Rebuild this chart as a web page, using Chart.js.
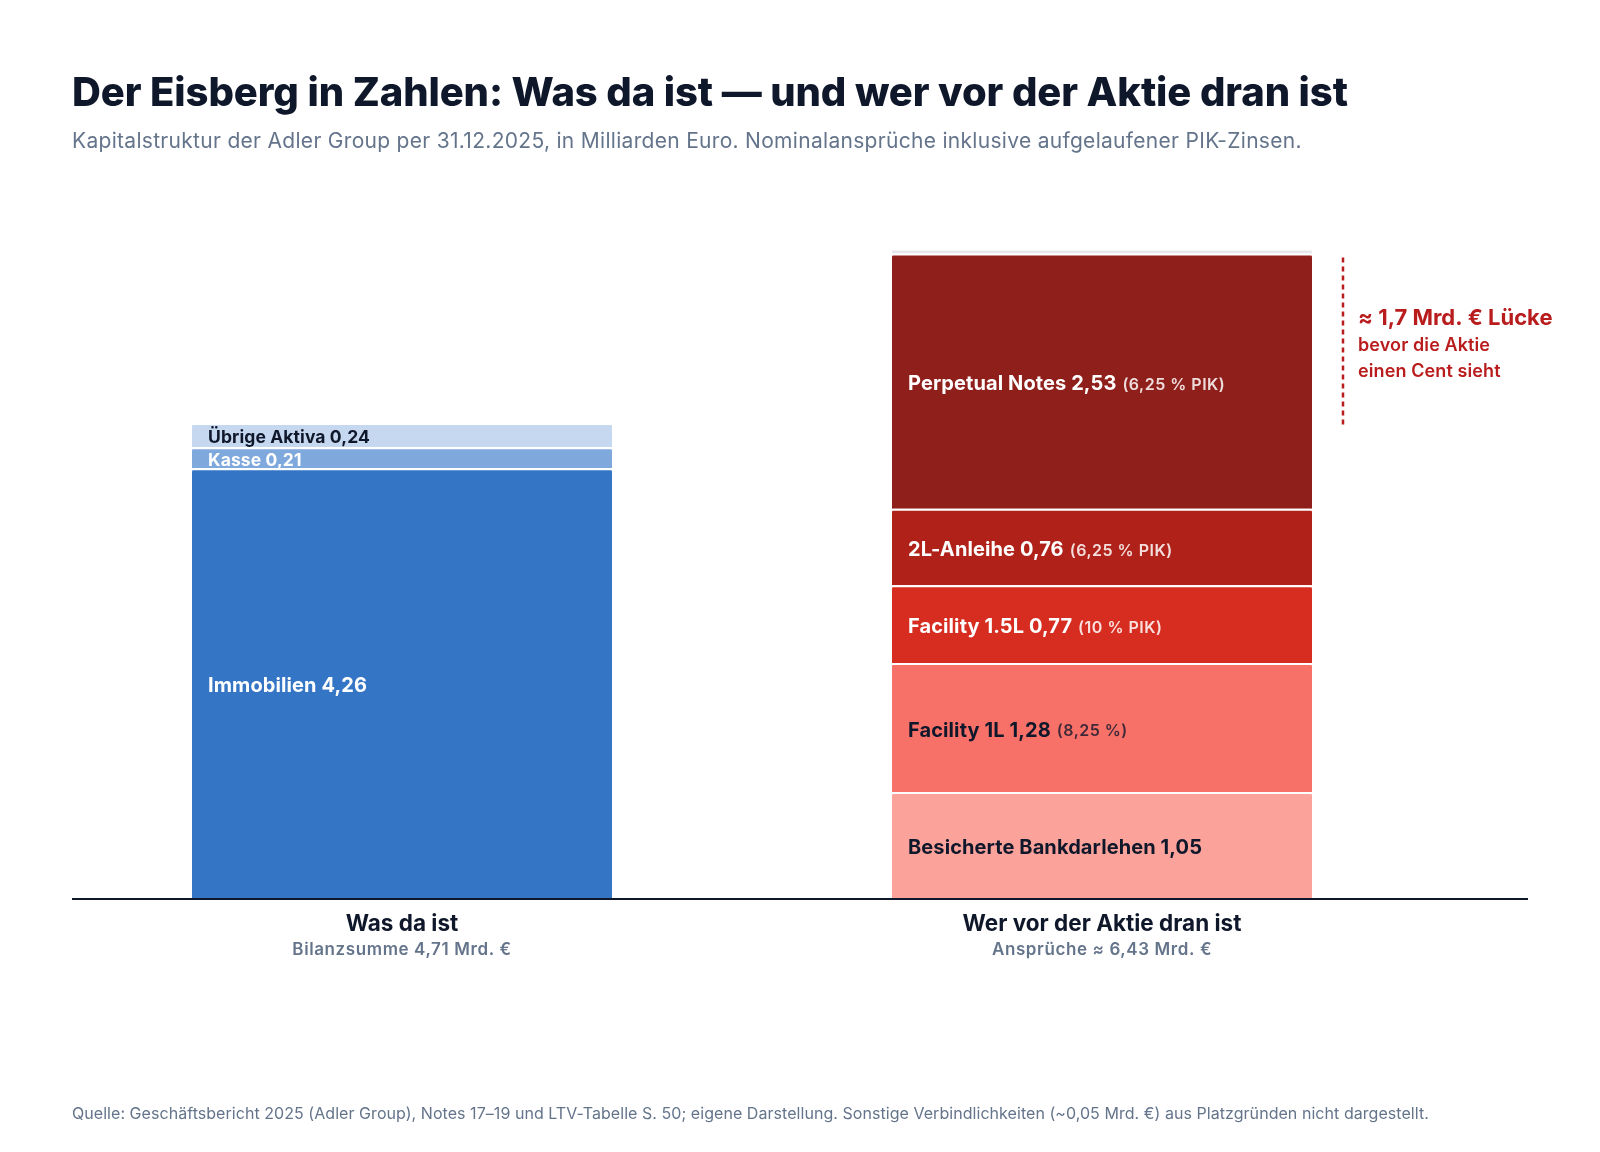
<!DOCTYPE html>
<html lang="de">
<head>
<meta charset="utf-8">
<title>Der Eisberg in Zahlen</title>
<script src="https://cdn.jsdelivr.net/npm/chart.js@4.4.1/dist/chart.umd.min.js"></script>
<style>
  html, body { margin: 0; padding: 0; background: #ffffff; }
  #wrap { position: relative; width: 1600px; height: 1152px; font-family: Inter, "Noto Sans", sans-serif; }
  #chart { position: absolute; left: 0; top: 0; }
  h1 { position: absolute; left: 72px; top: 68px; margin: 0; font-size: 40px; line-height: 48px; font-weight: 800; color: #0f172a; letter-spacing: -0.1px; white-space: nowrap; }
  .sub { position: absolute; left: 72px; top: 127px; margin: 0; font-size: 21px; line-height: 28px; color: #64748b; letter-spacing: 0.3px; white-space: nowrap; }
  .src { position: absolute; left: 72px; top: 1103px; margin: 0; font-size: 16px; line-height: 20px; color: #64748b; letter-spacing: 0.05px; white-space: nowrap; }
</style>
</head>
<body>
<div id="wrap">
  <canvas id="chart" width="1600" height="1152"></canvas>
  <h1>Der Eisberg in Zahlen: Was da ist — und wer vor der Aktie dran ist</h1>
  <p class="sub">Kapitalstruktur der Adler Group per 31.12.2025, in Milliarden Euro. Nominalansprüche inklusive aufgelaufener PIK-Zinsen.</p>
  <p class="src">Quelle: Geschäftsbericht 2025 (Adler Group), Notes 17–19 und LTV-Tabelle S. 50; eigene Darstellung. Sonstige Verbindlichkeiten (~0,05 Mrd. €) aus Platzgründen nicht dargestellt.</p>
</div>
<script>
// Data
var categories = ['Was da ist', 'Wer vor der Aktie dran ist'];
var categorySubs = ['Bilanzsumme 4,71 Mrd. €', 'Ansprüche ≈ 6,43 Mrd. €'];

var assetNames = ['Immobilien', 'Kasse', 'Übrige Aktiva'];
var assetValues = [4.26, 0.21, 0.24];

var claimNames = ['Besicherte Bankdarlehen', 'Facility 1L', 'Facility 1.5L', '2L-Anleihe', 'Perpetual Notes', 'Sonstige'];
var claimValues = [1.05, 1.28, 0.77, 0.76, 2.53, 0.05];
var claimNotes = ['', '(8,25 %)', '(10 % PIK)', '(6,25 % PIK)', '(6,25 % PIK)', ''];
var claimShowLabel = [true, true, true, true, true, false];

var gapTitle = '≈ 1,7 Mrd. € Lücke';
var gapLines = ['bevor die Aktie', 'einen Cent sieht'];

// Styles
var assetColors = ['#3575c5', '#7fa8dc', '#c6d8ef'];
var assetText = ['#ffffff', '#ffffff', '#0f172a'];
var claimColors = ['#fba39b', '#f87168', '#d72c20', '#b02219', '#8f1f1a', '#e5e7eb'];
var claimText = ['#0f172a', '#0f172a', '#ffffff', '#ffffff', '#ffffff', '#0f172a'];

var FONT = 'Inter, "Noto Sans", sans-serif';
var fmt = function (v) { return v.toFixed(2).replace('.', ','); };
var sum = function (arr) { return arr.reduce(function (a, b) { return a + b; }, 0); };

var makeDataset = function (name, value, idx, color, textColor, note, show) {
  var data = [null, null];
  data[idx] = value;
  return {
    label: name,
    data: data,
    backgroundColor: color,
    borderColor: '#ffffff',
    borderWidth: { top: 2, left: 0, right: 0, bottom: 0 },
    borderSkipped: 'start',
    borderRadius: { topLeft: 3, topRight: 3, bottomLeft: 0, bottomRight: 0 },
    barPercentage: 0.6,
    categoryPercentage: 1,
    segText: show ? name + ' ' + fmt(value) : '',
    segNote: note,
    segColor: textColor
  };
};

var datasets = [];
assetNames.forEach(function (n, i) {
  datasets.push(makeDataset(n, assetValues[i], 0, assetColors[i], assetText[i], '', true));
});
claimNames.forEach(function (n, i) {
  datasets.push(makeDataset(n, claimValues[i], 1, claimColors[i], claimText[i], claimNotes[i], claimShowLabel[i]));
});

var setSpacing = function (ctx, px) {
  if ('letterSpacing' in ctx) ctx.letterSpacing = px + 'px';
};

// Labels inside the segments
var segmentLabels = {
  id: 'segmentLabels',
  afterDatasetsDraw: function (chart) {
    var ctx = chart.ctx;
    ctx.save();
    ctx.textBaseline = 'middle';
    ctx.textAlign = 'left';
    chart.data.datasets.forEach(function (ds, i) {
      var meta = chart.getDatasetMeta(i);
      meta.data.forEach(function (bar, j) {
        if (ds.data[j] == null || !ds.segText) return;
        var h = bar.base - bar.y;
        var left = bar.x - bar.width / 2 + 16;
        var big = h > 40;
        var cy = bar.y + 1 + h / 2 + (big ? 2 : 2);
        ctx.globalAlpha = 1;
        ctx.fillStyle = ds.segColor;
        ctx.font = '700 ' + (big ? 20 : 17.5) + 'px ' + FONT;
        setSpacing(ctx, 0.1);
        ctx.fillText(ds.segText, left, cy);
        if (ds.segNote) {
          var w = ctx.measureText(ds.segText).width;
          ctx.font = '600 16px ' + FONT;
          setSpacing(ctx, 0.5);
          ctx.globalAlpha = ds.segColor === '#ffffff' ? 0.85 : 0.8;
          ctx.fillText(ds.segNote, left + w + 6, cy + 1);
        }
      });
    });
    ctx.restore();
  }
};

// Baseline, category labels, gap annotation
var decorations = {
  id: 'decorations',
  afterDraw: function (chart) {
    var ctx = chart.ctx;
    var x = chart.scales.x, y = chart.scales.y;
    var y0 = y.getPixelForValue(0);
    ctx.save();
    ctx.strokeStyle = '#0f172a';
    ctx.lineWidth = 2;
    ctx.beginPath();
    ctx.moveTo(72, y0 + 1);
    ctx.lineTo(1528, y0 + 1);
    ctx.stroke();

    ctx.textAlign = 'center';
    ctx.textBaseline = 'middle';
    categories.forEach(function (c, i) {
      var cx = x.getPixelForValue(i);
      ctx.fillStyle = '#0f172a';
      ctx.font = '700 22.5px ' + FONT;
      setSpacing(ctx, 0);
      ctx.fillText(c, cx, y0 + 26);
      ctx.fillStyle = '#64748b';
      ctx.font = '600 17px ' + FONT;
      setSpacing(ctx, 0.6);
      ctx.fillText(categorySubs[i], cx, y0 + 52);
    });

    // gap between claims and assets
    var claimsTop = sum(claimValues.slice(0, 5));
    var assetsTop = sum(assetValues);
    var yTop = y.getPixelForValue(claimsTop) + 4;
    var yBot = y.getPixelForValue(assetsTop) + 4;
    var lx = 1343;
    ctx.strokeStyle = '#b91c1c';
    ctx.lineWidth = 2.5;
    ctx.setLineDash([5, 4]);
    ctx.beginPath();
    ctx.moveTo(lx, yTop);
    ctx.lineTo(lx, yBot);
    ctx.stroke();
    ctx.setLineDash([]);

    var mid = (yTop + yBot) / 2;
    ctx.textAlign = 'left';
    ctx.fillStyle = '#b91c1c';
    ctx.font = '700 22px ' + FONT;
    setSpacing(ctx, 0);
    ctx.fillText(gapTitle, lx + 15, mid - 24);
    ctx.font = '600 18px ' + FONT;
    setSpacing(ctx, 0.1);
    ctx.fillText(gapLines[0], lx + 15, mid + 3);
    ctx.fillText(gapLines[1], lx + 15, mid + 29);
    ctx.restore();
  }
};

new Chart(document.getElementById('chart').getContext('2d'), {
  type: 'bar',
  data: { labels: categories, datasets: datasets },
  options: {
    responsive: false,
    animation: false,
    devicePixelRatio: 1,
    layout: { padding: { left: 52, right: 148, top: 192, bottom: 254 } },
    plugins: { legend: { display: false }, tooltip: { enabled: false } },
    scales: {
      x: { stacked: true, display: false },
      y: { stacked: true, display: false, min: 0, max: 7 }
    }
  },
  plugins: [segmentLabels, decorations]
});
</script>
</body>
</html>
